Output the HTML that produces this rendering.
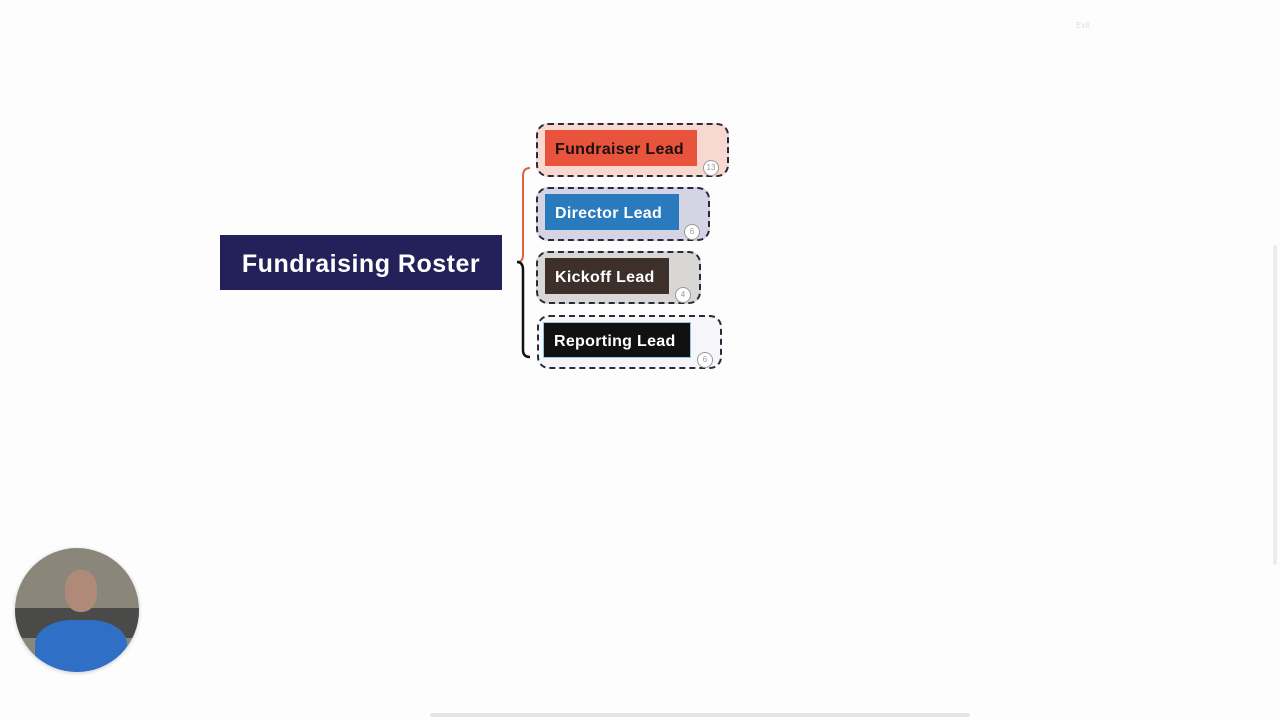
<!DOCTYPE html>
<html><head><style>
body{margin:0;width:1280px;height:720px;background:#fdfdfd;position:relative;overflow:hidden;font-family:"Liberation Sans",sans-serif}
.a{position:absolute}
.g{position:absolute;border:2px dashed #2a2a3a;border-radius:12px;box-sizing:border-box}
.t{position:absolute;height:36px;line-height:39px;font-size:16px;font-weight:bold;padding-left:10px;box-sizing:border-box;letter-spacing:.3px}
.b{position:absolute;width:14px;height:14px;border-radius:50%;background:#fff;border:1px solid #999;font-size:8px;color:#999;text-align:center;line-height:14px}
</style></head><body>
<div class="a" style="left:220px;top:235px;width:282px;height:55px;background:#24205a;color:#fff;font-size:25px;font-weight:bold;text-align:center;line-height:58px;letter-spacing:.5px">Fundraising Roster</div>
<svg class="a" style="left:505px;top:160px" width="40" height="210">
<path d="M25 8 Q18 8 18 16 L18 95 Q18 102 12 102" fill="none" stroke="#e0643a" stroke-width="2"/>
<path d="M12 102 Q18 102 18 110 L18 190 Q18 197 25 197" fill="none" stroke="#111" stroke-width="2.5"/>
</svg>
<div class="g" style="left:536px;top:123px;width:193px;height:54px;background:#f8d8d1"></div>
<div class="t" style="left:545px;top:130px;width:152px;background:#e8533c;color:#1a1010">Fundraiser Lead</div>
<div class="b" style="left:703px;top:160px">13</div>
<div class="g" style="left:536px;top:187px;width:174px;height:54px;background:#d4d4e4"></div>
<div class="t" style="left:545px;top:194px;width:134px;background:#2a7bbd;color:#fff">Director Lead</div>
<div class="b" style="left:684px;top:224px">6</div>
<div class="g" style="left:536px;top:251px;width:165px;height:53px;background:#d9d7d5"></div>
<div class="t" style="left:545px;top:258px;width:124px;background:#3d302b;color:#fff">Kickoff Lead</div>
<div class="b" style="left:675px;top:287px">4</div>
<div class="g" style="left:537px;top:315px;width:185px;height:54px;background:#f6f6f8"></div>
<div class="t" style="left:543px;top:322px;width:148px;background:#111;color:#fff;border:1px solid #8cc8e8;line-height:37px">Reporting Lead</div>
<div class="b" style="left:697px;top:352px">6</div>
<div class="a" style="left:15px;top:548px;width:124px;height:124px;border-radius:50%;overflow:hidden;background:#8a877a;box-shadow:0 1px 4px rgba(0,0,0,.2)">
<div class="a" style="left:0;top:60px;width:124px;height:30px;background:#4a4a48"></div>
<div class="a" style="left:50px;top:22px;width:32px;height:42px;border-radius:45%;background:#b08a78"></div>
<div class="a" style="left:20px;top:72px;width:92px;height:60px;border-radius:40% 40% 0 0;background:#2f6fc6"></div>
</div>
<div class="a" style="left:430px;top:713px;width:540px;height:4px;background:#e4e4e4;border-radius:2px"></div>
<div class="a" style="left:1273px;top:245px;width:4px;height:320px;background:#ececec;border-radius:2px"></div>
<div class="a" style="left:1076px;top:21px;font-size:8px;color:#ddd">Exit</div>
</body></html>
